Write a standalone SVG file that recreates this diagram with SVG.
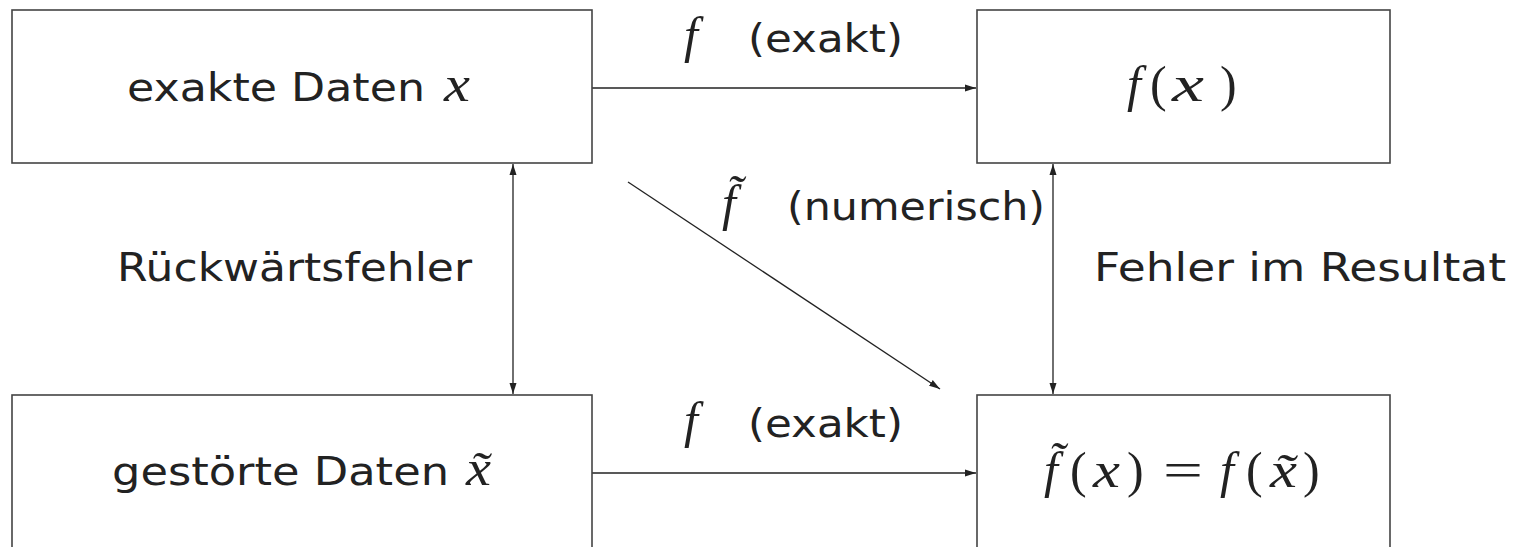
<svg xmlns="http://www.w3.org/2000/svg" width="1514" height="547" viewBox="0 0 1514 547">
<style>
.box{fill:#fff;stroke:#444;stroke-width:1.6}
.ln{fill:none;stroke:#222;stroke-width:1.3}
.sans{font-family:"DejaVu Sans","Liberation Sans",sans-serif;font-size:39px;fill:#222}
.m{font-family:"Liberation Serif","DejaVu Serif",serif;font-size:50px;fill:#222}
.i{font-style:italic}
</style>
<defs>
<marker id="ah" markerUnits="userSpaceOnUse" markerWidth="12" markerHeight="8" refX="11" refY="4" orient="auto-start-reverse">
<path d="M0,0.5 L11,4 L0,7.5 z" fill="#222"/>
</marker>
</defs>
<rect width="1514" height="547" fill="#fff"/>
<g id="connectors">
<path class="ln" d="M592,88 H976" marker-end="url(#ah)"/>
<path class="ln" d="M592,473 H976" marker-end="url(#ah)"/>
<path class="ln" d="M513,164 V394" marker-start="url(#ah)" marker-end="url(#ah)"/>
<path class="ln" d="M1053,164 V394" marker-start="url(#ah)" marker-end="url(#ah)"/>
<path class="ln" d="M628,182 L940,389" marker-end="url(#ah)"/>
</g>
<g id="exact">
<rect class="box" x="12" y="10" width="580" height="153"/>
<text class="sans" x="127" y="101" textLength="298" lengthAdjust="spacingAndGlyphs">exakte Daten</text>
<text class="m i" x="444" y="101" textLength="26" lengthAdjust="spacingAndGlyphs">x</text>
</g>
<g id="fx">
<rect class="box" x="977" y="10" width="413" height="153"/>
<text class="m i" x="1127" y="101">f</text>
<text class="m" x="1150" y="101">(</text>
<text class="m i" x="1172" y="101" textLength="32" lengthAdjust="spacingAndGlyphs">x</text>
<text class="m" x="1220" y="101">)</text>
</g>
<g id="perturbed">
<rect class="box" x="12" y="395" width="580" height="170"/>
<text class="sans" x="112" y="485" textLength="337" lengthAdjust="spacingAndGlyphs">gestörte Daten</text>
<text class="m i" x="466" y="485" textLength="25" lengthAdjust="spacingAndGlyphs">x̃</text>
</g>
<g id="result">
<rect class="box" x="977" y="395" width="413" height="170"/>
<text class="m i" x="1044" y="487">f̃</text>
<text class="m" x="1070" y="487">(</text>
<text class="m i" x="1093" y="487" textLength="27" lengthAdjust="spacingAndGlyphs">x</text>
<text class="m" x="1127" y="487">)</text>
<text class="m" x="1163" y="487" textLength="40" lengthAdjust="spacingAndGlyphs">=</text>
<text class="m i" x="1220" y="487">f</text>
<text class="m" x="1246" y="487">(</text>
<text class="m i" x="1270" y="487" textLength="27" lengthAdjust="spacingAndGlyphs">x̃</text>
<text class="m" x="1303" y="487">)</text>
</g>
<g id="labels">
<text class="m i" x="684" y="52">f</text>
<text class="sans" x="748" y="52" textLength="155" lengthAdjust="spacingAndGlyphs">(exakt)</text>
<text class="m i" x="722" y="220">f̃</text>
<text class="sans" x="787" y="220" textLength="258" lengthAdjust="spacingAndGlyphs">(numerisch)</text>
<text class="sans" x="117" y="281" textLength="355" lengthAdjust="spacingAndGlyphs">Rückwärtsfehler</text>
<text class="sans" x="1094" y="281" textLength="412" lengthAdjust="spacingAndGlyphs">Fehler im Resultat</text>
<text class="m i" x="684" y="437">f</text>
<text class="sans" x="748" y="437" textLength="155" lengthAdjust="spacingAndGlyphs">(exakt)</text>
</g>
</svg>
